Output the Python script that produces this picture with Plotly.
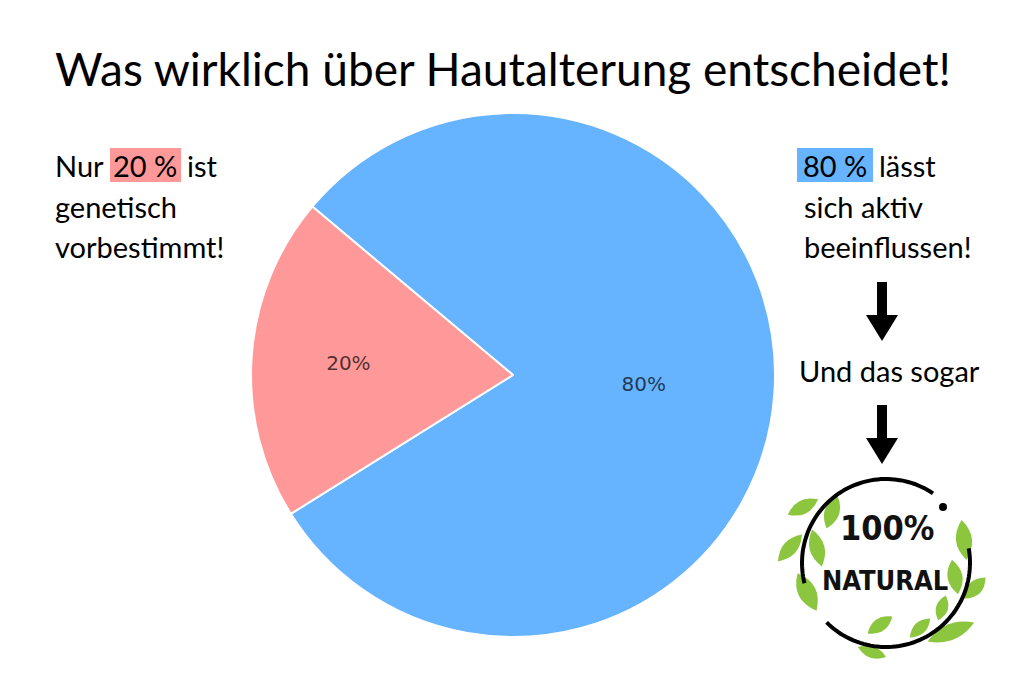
import numpy as np
import plotly.graph_objects as go

# Daten
labels = ["Aktiv beeinflussbar", "Genetisch vorbestimmt"]
werte = [80, 20]
farben = ["#66b3ff", "#ff9999"]

titel = "Was wirklich über Hautalterung entscheidet!"
links_zeilen = ["genetisch", "vorbestimmt!"]
rechts_zeilen = ["sich aktiv", "beeinflussen!"]

W, H = 1024, 683
OFF = 8  # seitenrand im browser
FONT = "Lato"
LOGO_FONT = "DejaVu Sans Condensed, DejaVu Sans"


def blatt(cx, cy, L, B, a):
    # blattform als pfad (zwei quadratische kurven), B = gesamtbreite
    u = np.array([np.cos(np.radians(a)), np.sin(np.radians(a))])
    n = np.array([-u[1], u[0]])
    c = np.array([cx, cy])
    p1 = c - L / 2 * u
    p2 = c + L / 2 * u
    k1 = c + B * n
    k2 = c - B * n
    return (f"M {p1[0]:.1f} {p1[1]:.1f} Q {k1[0]:.1f} {k1[1]:.1f} {p2[0]:.1f} {p2[1]:.1f} "
            f"Q {k2[0]:.1f} {k2[1]:.1f} {p1[0]:.1f} {p1[1]:.1f} Z")


def bogen(cx, cy, r, t0, t1):
    t = np.radians(np.linspace(t0, t1, 60))
    xs = cx + r * np.cos(t)
    ys = cy - r * np.sin(t)
    return "M " + " L ".join(f"{x:.1f} {y:.1f}" for x, y in zip(xs, ys))


def pfeil(x, y0, y1):
    s = 5
    k = 16
    yk = y1 - 26
    return (f"M {x-s} {y0} L {x+s} {y0} L {x+s} {yk} L {x+k} {yk} L {x} {y1} "
            f"L {x-k} {yk} L {x-s} {yk} Z")


fig = go.Figure()

r = 262
cx, cy = 513, 375
fig.add_trace(go.Pie(
    labels=labels,
    values=werte,
    sort=False,
    direction="clockwise",
    rotation=-50,
    marker=dict(colors=farben, line=dict(color="white", width=2)),
    textinfo="percent",
    textposition="inside",
    insidetextorientation="horizontal",
    textfont=dict(family="DejaVu Sans", size=20, color="rgba(0,0,0,0.7)"),
    showlegend=False,
    hoverinfo="label+percent",
    domain=dict(x=[(cx - r - OFF) / W, (cx + r - OFF) / W],
                y=[1 - (cy + r - OFF) / H, 1 - (cy - r - OFF) / H]),
))

shapes = []
# markierungen hinter den prozentzahlen
shapes.append(dict(type="rect", x0=110, x1=181, y0=148, y1=182, fillcolor="#ff9999", line_width=0, layer="below"))
shapes.append(dict(type="rect", x0=797, x1=873, y0=148, y1=182, fillcolor="#66b3ff", line_width=0, layer="below"))

# pfeile
shapes.append(dict(type="path", path=pfeil(882, 282, 341), fillcolor="black", line_width=0))
shapes.append(dict(type="path", path=pfeil(882, 405, 464), fillcolor="black", line_width=0))

# blaetter
gruen = "#8cc63f"
blaetter = [
    (803, 507, 34, 14, -27), (832, 512, 35, 15, 108), (790, 548, 36, 14, -48),
    (817, 548, 38, 15, 75), (807, 592, 42, 18, 63), (964, 540, 40, 16, 83),
    (955, 577, 35, 15, 80), (975, 588, 30, 14, -45), (942, 608, 26, 12, 107),
    (880, 625, 30, 13, -34), (920, 628, 28, 12, -43), (951, 632, 50, 16, -22),
    (872, 652, 30, 12, 20),
]
for b in blaetter:
    shapes.append(dict(type="path", path=blatt(*b), fillcolor=gruen, line_width=0))

# logo kreis
lx, ly, lr = 886, 563, 84
shapes.append(dict(type="path", path=bogen(lx, ly, lr, 56, 194), line=dict(color="black", width=4)))
shapes.append(dict(type="path", path=bogen(lx, ly, lr, 225, 370), line=dict(color="black", width=4)))
shapes.append(dict(type="circle", x0=939, x1=947, y0=503, y1=511, fillcolor="black", line_width=0))

for s in shapes:
    s.setdefault("xref", "x")
    s.setdefault("yref", "y")
fig.update_layout(shapes=shapes)

ann = []


def text(x, y, t, size=29, anchor="left", fam=FONT, farbe="black"):
    ann.append(dict(x=x, y=y, xref="x", yref="y", text=t, showarrow=False,
                    xanchor=anchor, yanchor="middle",
                    font=dict(family=fam, size=size, color=farbe)))


text(53, 68, titel, size=46)

text(53, 165, "Nur")
text(145, 165, "20 %", anchor="center")
text(185, 165, "ist")
for i, z in enumerate(links_zeilen):
    text(53, 206 + 40 * i, z)

text(835, 165, "80 %", anchor="center")
text(877, 165, "lässt")
for i, z in enumerate(rechts_zeilen):
    text(802, 206 + 40 * i, z)
text(889, 370, "Und das sogar", anchor="center")

text(887, 528, "<b>100%</b>", size=34, anchor="center", fam=LOGO_FONT, farbe="#111")
text(885, 580, "<b>NATURAL</b>", size=27, anchor="center", fam=LOGO_FONT, farbe="#111")

fig.update_layout(
    annotations=ann,
    width=W, height=H,
    margin=dict(l=0, r=0, t=0, b=0),
    paper_bgcolor="white",
    plot_bgcolor="white",
    xaxis=dict(range=[OFF, W + OFF], visible=False, domain=[0, 1], fixedrange=True),
    yaxis=dict(range=[H + OFF, OFF], visible=False, domain=[0, 1], fixedrange=True),
)

fig.write_html("out.html")
